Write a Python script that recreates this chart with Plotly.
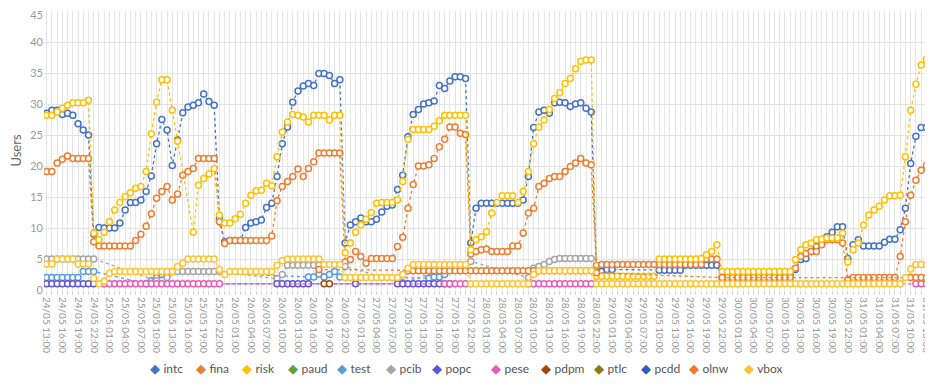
import pandas as pd
import plotly.graph_objects as go

_ = None

# hourly categories 24/05 13:00 .. 31/05 13:00
time_labels = [t.strftime("%d/%m %H:%M")
               for t in pd.date_range("2024-05-24 13:00", "2024-05-31 13:00", freq="h")]
hours = list(range(len(time_labels)))
tick_idx = hours[::3]
tick_text = time_labels[::3]
y_ticks = [0, 5, 10, 15, 20, 25, 30, 35, 40, 45]

intc = [
    28.5, 29.0, 29.0, 28.3, 28.5, 28.2, 26.8, 25.8, 25.0, 9.0, 10.1,
    10.0, 10.0, 10.0, 10.8, 12.9, 14.1, 14.1, 14.5, 15.9, 18.4, 23.6, 27.5,
    25.8, 20.1, 24.2, 28.6, 29.5, 29.8, 30.2, 31.6, 30.4, 29.8, 11.5, 7.8,
    8.0, 8.0, 8.0, 10.1, 10.8, 11.0, 11.3, 13.3, 14.0, 18.3, 23.6, 26.3,
    30.3, 32.1, 32.9, 33.3, 33.0, 34.9, 34.9, 34.6, 33.3, 33.9, 7.6, 10.5,
    11.0, 11.6, 11.0, 11.0, 11.4, 12.6, 13.5, 13.7, 16.2, 18.5, 24.7, 28.3,
    29.1, 30.0, 30.2, 30.5, 33.0, 32.5, 33.7, 34.4, 34.4, 34.1, 7.6, 13.2,
    14.0, 14.0, 14.0, 14.0, 14.0, 14.0, 14.0, 14.0, 14.5, 18.3, 26.2, 28.7,
    29.0, 28.5, 30.2, 30.3, 30.2, 29.6, 30.0, 30.2, 29.3, 28.7, 3.0, 3.0,
    3.3, 3.3, _, _, _, _, _, _, _, _, 3.2, 3.2,
    3.2, 3.2, 3.2, 4.0, 4.0, 4.0, 4.0, 4.0, 4.0, 4.0, 2.0, 2.0,
    2.0, 2.0, 2.0, 2.0, 2.0, 2.0, 2.0, 2.0, 2.0, 2.0, 2.2, 2.5,
    3.3, 4.9, 5.1, 6.2, 7.0, 7.6, 8.6, 9.3, 10.2, 10.2, 5.1, 7.3,
    8.1, 7.1, 7.1, 7.1, 7.1, 7.7, 8.2, 8.2, 9.7, 13.2, 20.4, 24.8, 26.2, 26.2,
]

fina = [
    19.1, 19.1, 20.5, 21.1, 21.6, 21.2, 21.2, 21.2, 21.2, 7.8, 7.1,
    7.1, 7.1, 7.1, 7.1, 7.1, 7.1, 8.0, 9.0, 10.3, 12.3, 14.8, 15.9,
    16.7, 14.5, 15.5, 18.5, 19.1, 19.6, 21.2, 21.2, 21.2, 21.2, 11.0, 7.5,
    8.0, 8.0, 8.0, 8.0, 8.0, 8.0, 8.0, 8.0, 8.7, 14.4, 16.7, 17.5,
    18.3, 19.5, 18.3, 19.6, 20.7, 22.1, 22.1, 22.1, 22.1, 22.1, 4.5, 4.9,
    6.2, 5.4, 4.3, 5.1, 5.1, 5.1, 5.1, 5.1, 7.0, 8.5, 13.2, 17.0,
    20.0, 20.0, 20.2, 21.2, 23.1, 24.3, 26.3, 26.3, 25.3, 25.1, 5.8, 6.2,
    6.5, 6.6, 6.2, 6.2, 6.2, 6.2, 7.1, 7.1, 9.2, 12.4, 13.2, 16.7,
    17.2, 18.0, 18.3, 18.3, 19.1, 19.9, 20.5, 21.2, 20.5, 20.2, 4.0, 4.1,
    4.1, 4.1, 4.1, 4.1, 4.1, 4.1, 4.1, 4.1, 4.1, 4.1, 4.1, 4.1,
    4.1, 4.1, 4.1, 4.1, 4.1, 4.1, 4.1, 5.0, 5.0, 5.0, 2.0, 2.0,
    2.0, 2.0, 2.0, 2.0, 2.0, 2.0, 2.0, 2.0, 2.0, 2.0, 2.0, 2.0,
    3.5, 5.4, 5.9, 6.2, 6.2, 7.3, 8.1, 8.1, 8.1, 7.6, 1.7, 2.0,
    2.0, 2.0, 2.0, 2.0, 2.0, 2.0, 2.0, 2.0, 5.4, 11.0, 15.3, 17.7, 19.3, 20.1,
]

risk = [
    28.2, 28.2, 28.7, 29.3, 29.8, 30.2, 30.2, 30.2, 30.6, 9.2, 8.1,
    9.3, 11.0, 12.9, 14.1, 15.1, 15.7, 16.4, 16.7, 19.1, 25.2, 30.3, 33.9,
    33.9, 29.0, 24.0, _, _, 9.3, 16.9, 18.0, 18.7, 19.6, 12.1, 10.8,
    10.8, 11.5, 12.2, 14.0, 15.3, 16.0, 16.1, 17.2, 16.8, 21.5, 25.5, 27.1,
    28.3, 28.2, 27.9, 27.1, 28.2, 28.2, 28.2, 27.4, 28.2, 28.2, 6.0, 7.6,
    9.3, 10.5, 11.4, 12.5, 14.0, 14.1, 14.1, 14.1, 14.5, 17.5, 24.3, 25.9,
    25.9, 25.9, 25.9, 26.4, 27.3, 28.2, 28.2, 28.2, 28.2, 28.2, 6.5, 8.1,
    8.6, 9.4, 12.4, 14.1, 15.2, 15.2, 15.2, 14.1, 15.9, 19.1, 23.6, 26.3,
    27.4, 29.1, 30.9, 31.8, 33.3, 34.1, 35.7, 36.9, 37.1, 37.1, 2.2, 2.2,
    2.2, 2.2, 2.2, 2.2, 2.2, 2.2, 2.2, 2.2, 2.2, 2.2, 5.0, 5.0,
    5.0, 5.0, 5.0, 5.0, 5.0, 5.0, 5.1, 5.7, 6.2, 7.3, 3.0, 3.0,
    3.0, 3.0, 3.0, 3.0, 3.0, 3.0, 3.0, 3.0, 3.0, 3.0, 3.0, 3.0,
    4.9, 6.5, 7.3, 7.6, 8.1, 8.2, 8.4, 8.4, 8.4, 9.2, 4.5, 6.5,
    7.6, 10.5, 12.1, 12.9, 13.5, 14.5, 15.2, 15.2, 15.3, 21.5, 29.0, 33.2, 36.3, 37.2,
]

vbox = [
    4.2, 4.2, 5.0, 5.0, 5.0, 5.0, 4.2, 4.2, 4.2, 1.9, 1.0,
    1.4, 2.7, 3.0, 3.0, 3.0, 3.0, 3.0, 3.0, 3.0, 3.0, 3.0, 3.0,
    3.0, 3.0, 3.8, 4.3, 5.0, 5.0, 5.0, 5.0, 5.0, 5.0, 3.3, 2.5,
    3.0, 3.0, 3.0, 3.0, 3.0, 3.0, 3.0, 3.0, 3.0, 4.0, 4.7, 5.0,
    5.0, 5.0, 5.0, 5.0, 5.0, 5.0, 4.1, 4.1, 4.1, 4.1, 2.0, 2.0,
    2.0, 2.0, 2.0, 2.0, 2.0, 2.0, 2.0, 2.0, 2.0, 2.5, 3.5, 4.1,
    4.1, 4.1, 4.1, 4.1, 4.1, 4.1, 4.1, 4.1, 4.1, 4.1, 1.0, 1.0,
    1.0, 1.0, 1.0, 1.0, 1.0, 1.0, 1.0, 1.0, 1.0, 1.0, 2.5, 3.1,
    3.1, 3.1, 3.1, 3.1, 3.1, 3.1, 3.1, 3.1, 3.1, 3.1, 1.0, 1.0,
    1.0, 1.0, 1.0, 1.0, 1.0, 1.0, 1.0, 1.0, 1.0, 1.0, 1.0, 1.0,
    1.0, 1.0, 1.0, 1.0, 1.0, 1.0, 1.0, 1.0, 1.0, 1.0, 1.0, 1.0,
    1.0, 1.0, 1.0, 1.0, 1.0, 1.0, 1.0, 1.0, 1.0, 1.0, 1.0, 1.0,
    1.0, 1.0, 1.0, 1.0, 1.0, 1.0, 1.0, 1.0, 1.0, 1.0, 1.0, 1.0,
    1.0, 1.0, 1.0, 1.0, 1.0, 1.0, 1.0, 1.0, 1.0, 2.0, 3.4, 4.1, 4.1, 4.1,
]

olnw = [
    _, _, _, _, _, _, _, _, _, _, _,
    _, _, _, _, _, _, _, _, _, _, _, _,
    _, _, _, _, _, _, _, _, _, _, _, _,
    _, _, _, _, _, _, _, _, _, _, _, _,
    _, _, _, _, _, 3.3, _, _, _, _, _, _,
    _, _, _, _, _, _, _, _, _, _, 3.1, 3.1,
    3.1, 3.1, 3.1, 3.1, 3.1, 3.1, 3.1, 3.1, 3.1, 3.1, 3.1, 3.1,
    3.1, 3.1, 3.1, 3.1, 3.1, 3.1, 3.1, 3.1, 3.1, 3.1, 3.1, 3.1,
    3.1, 3.1, 3.1, 3.1, 3.1, 3.1, 3.1, 3.1, 3.1, 3.1, 2.8, _,
    _, _, _, _, _, _, _, _, _, _, _, _,
    _, _, _, _, _, _, _, _, _, _, 2.0, _,
    _, _, _, _, _, _, _, _, _, _, _, _,
    _, _, _, _, _, _, _, _, _, _, _, _,
    _, _, _, _, _, _, _, _, _, _, 2.0, 2.0, 2.0, 2.0,
]

pcib = [
    5.0, 5.0, 5.0, 5.0, 5.0, 5.0, 5.0, 5.0, 5.0, 5.0, _,
    _, _, _, _, _, _, _, _, _, _, 1.5, 3.0,
    2.0, 3.0, 3.0, 3.0, 3.0, 3.0, 3.0, 3.0, 3.0, 3.0, 3.0, _,
    _, _, _, _, _, _, _, _, _, 1.8, 2.5, 4.0,
    4.0, 4.0, 4.0, 4.0, 4.0, 4.0, _, _, _, _, 3.8, _,
    _, _, _, _, _, _, _, _, _, 1.2, _, _,
    _, _, _, _, _, _, _, _, _, _, 4.6, _,
    _, _, _, _, _, _, _, _, _, 2.0, 3.5, 3.8,
    4.1, 4.6, 4.9, 5.1, 5.1, 5.1, 5.1, 5.1, 5.1, 5.1, _, _,
    _, _, _, _, _, _, _, _, _, _, _, _,
    _, _, _, _, _, _, _, _, _, _, _, _,
    _, _, _, _, _, _, _, _, _, _, _, _,
    _, _, _, _, _, _, _, _, _, _, _, _,
    _, _, _, _, _, _, _, _, _, _, _, _, _, _,
]

test = [
    2.0, 2.0, 2.0, 2.0, 2.0, 2.0, 2.0, 3.0, 3.0, 3.0, _,
    _, _, _, _, _, _, _, _, 1.0, 1.5, 2.0, 2.5,
    2.5, 3.0, _, _, _, _, _, _, _, _, _, _,
    _, _, _, _, _, _, _, _, _, _, _, _,
    _, _, _, 2.1, 2.1, 2.6, 2.1, 2.5, 3.0, 2.1, _, _,
    _, _, _, _, _, _, _, _, _, _, _, _,
    _, _, 1.9, 2.1, 2.1, 2.5, _, _, _, _, _, _,
    _, _, _, _, _, _, _, _, _, _, _, _,
    _, _, _, _, _, _, _, _, _, _, _, _,
    _, _, _, _, _, _, _, _, _, _, _, _,
    _, _, _, _, _, _, _, _, _, _, _, _,
    _, _, _, _, _, _, _, _, _, _, _, _,
    _, _, _, _, _, _, _, _, _, _, _, _,
    _, _, _, _, _, _, _, _, _, _, _, _, _, _,
]

popc = [
    1.0, 1.0, 1.0, 1.0, 1.0, 1.0, 1.0, 1.0, 1.0, 1.0, _,
    _, _, _, _, _, _, _, _, _, _, _, _,
    _, _, _, _, _, _, _, _, _, _, _, _,
    _, _, _, _, _, _, _, _, _, 1.0, 1.0, 1.0,
    1.0, 1.0, 1.0, 1.0, _, _, _, _, _, _, _, _,
    1.0, _, _, _, _, _, _, _, 1.0, 1.0, 1.0, 1.0,
    1.0, 1.0, 1.0, 1.0, 1.0, 1.0, 1.0, _, _, _, _, _,
    _, _, _, _, _, _, _, _, _, _, _, _,
    _, _, _, _, _, _, _, _, _, _, _, _,
    _, _, _, _, _, _, _, _, _, _, _, _,
    _, _, _, _, _, _, _, _, _, _, _, _,
    _, _, _, _, _, _, _, _, _, _, _, _,
    _, _, _, _, _, _, _, _, _, _, _, _,
    _, _, _, _, _, _, _, _, _, _, _, _, _, _,
]

pese = [
    _, _, _, _, _, _, _, _, _, _, _,
    1.0, 1.0, 1.0, 1.0, 1.0, 1.0, 1.0, 1.0, 1.0, 1.0, 1.0, 1.0,
    1.0, 1.0, 1.0, 1.0, 1.0, 1.0, 1.0, 1.0, 1.0, 1.0, 1.0, _,
    _, _, _, _, _, _, _, _, _, _, _, _,
    _, _, _, _, _, _, _, _, _, _, _, _,
    _, _, _, _, _, _, _, _, _, _, _, _,
    _, _, _, _, _, 1.0, 1.0, 1.0, 1.0, 1.0, _, _,
    _, _, _, _, _, _, _, _, _, 1.0, 1.0, 1.0,
    1.0, 1.0, 1.0, 1.0, 1.0, 1.0, 1.0, 1.0, 1.0, 1.0, _, _,
    _, _, _, _, _, _, _, _, _, _, _, _,
    _, _, _, _, _, _, _, _, _, _, _, _,
    _, _, _, _, _, _, _, _, _, _, _, _,
    _, _, _, _, _, _, _, _, _, _, _, _,
    _, _, _, _, _, _, _, _, _, _, _, 1.0, 1.0, 1.0,
]

pdpm = [
    _, _, _, _, _, _, _, _, _, _, _,
    _, _, _, _, _, _, _, _, _, _, _, _,
    _, _, _, _, _, _, _, _, _, _, _, _,
    _, _, _, _, _, _, _, _, _, _, _, _,
    _, _, _, _, _, _, 1.0, 1.0, _, _, _, _,
    _, _, _, _, _, _, _, _, _, _, _, _,
    _, _, _, _, _, _, _, _, _, _, _, _,
    _, _, _, _, _, _, _, _, _, _, _, _,
    _, _, _, _, _, _, _, _, _, _, _, _,
    _, _, _, _, _, _, _, _, _, _, _, _,
    _, _, _, _, _, _, _, _, _, _, _, _,
    _, _, _, _, _, _, _, _, _, _, _, _,
    _, _, _, _, _, _, _, _, _, _, _, _,
    _, _, _, _, _, _, _, _, _, _, _, _, _, _,
]

# series with no visible points in the picture
paud = [None] * len(hours)
ptlc = [None] * len(hours)
pcdd = [None] * len(hours)

series_names = ["intc", "fina", "risk", "paud", "test", "pcib", "popc",
                "pese", "pdpm", "ptlc", "pcdd", "olnw", "vbox"]
series_values = [intc, fina, risk, paud, test, pcib, popc,
                 pese, pdpm, ptlc, pcdd, olnw, vbox]
series_colors = ["#4472C4", "#ED7D31", "#FFC000", "#5BA33B", "#5B9BD5", "#A5A5A5",
                 "#5E56D8", "#E85BB8", "#9E480E", "#8C7A10", "#2F5DB8", "#F07A2A",
                 "#FFC32E"]
# extra spacing (px) after each legend entry
legend_extra = {"intc": 1, "fina": 1, "risk": 1, "paud": 4, "test": 4, "pcib": 1,
                "popc": 14, "pese": 5, "pdpm": 8, "ptlc": 2, "pcdd": 3, "olnw": 10,
                "vbox": 40}

for vals in series_values:
    assert len(vals) == len(hours), len(vals)

fig = go.Figure()
for name, vals, col in zip(series_names, series_values, series_colors):
    fig.add_trace(go.Scatter(
        x=hours, y=vals, mode="lines+markers", connectgaps=True,
        line=dict(color=col, width=1.3, dash="dot"),
        marker=dict(symbol="circle", size=6, color="white",
                    line=dict(color=col, width=1.5)),
        showlegend=False, hoverinfo="skip", name=name))

# legend entries: coloured diamond glyph + name as legend text
for name, col in zip(series_names, series_colors):
    fig.add_trace(go.Scatter(
        x=[None], y=[None], yaxis="y2", mode="markers",
        name=f'<span style="color:{col};font-size:13px">◆</span> {name}',
        marker=dict(size=1, color="rgba(0,0,0,0)"),
        legendwidth=legend_extra[name]))

FONT = "Lato, 'Open Sans', sans-serif"
TICKFONT = dict(size=11, color="#999", family=FONT)
# the page body keeps its default 8px margin, so the figure is sized/offset for it
fig.update_layout(
    width=925, height=378,
    margin=dict(l=36, r=4, t=3, b=94),
    paper_bgcolor="white", plot_bgcolor="white",
    font=dict(family=FONT, color="#888"),
    showlegend=True,
    legend=dict(orientation="h", x=0.075, xanchor="left", y=-0.281, yanchor="middle",
                font=dict(size=12, color="#555", family=FONT),
                itemwidth=30, bgcolor="rgba(0,0,0,0)"),
    xaxis=dict(
        range=[-0.5, len(hours) - 0.5],
        tickmode="array", tickvals=tick_idx, ticktext=tick_text,
        tickangle=90, tickfont=dict(size=10, color="#999", family=FONT),
        ticklabeloverflow="allow",
        showgrid=True, gridcolor="#e3e3e3", gridwidth=1,
        ticks="outside", ticklen=4, tickcolor="#d5d5d5",
        minor=dict(dtick=1, tick0=0, showgrid=True, gridcolor="#e6e6e6",
                   ticks="outside", ticklen=4, tickcolor="#d5d5d5"),
        zeroline=False, showline=False, automargin=False,
    ),
    yaxis=dict(
        range=[0, 45], tickmode="array", tickvals=y_ticks,
        ticktext=[str(v) for v in y_ticks[:-1]] + [""],
        tickfont=TICKFONT, ticklabeloverflow="allow",
        showgrid=True, gridcolor="#e3e3e3", gridwidth=1,
        zeroline=False, showline=False, automargin=False,
        title=dict(text="Users", font=dict(size=13, color="#666", family=FONT), standoff=6),
    ),
    # top tick label drawn on an overlaid axis, nudged down so it stays inside the page
    yaxis2=dict(
        range=[0, 45], overlaying="y", side="left", tickmode="array",
        tickvals=y_ticks[-1:], ticktext=[str(y_ticks[-1])],
        tickfont=TICKFONT, ticklabelshift=4, ticklabeloverflow="allow",
        showgrid=False, zeroline=False, showline=False, automargin=False,
    ),
)

fig.write_html("out.html")
